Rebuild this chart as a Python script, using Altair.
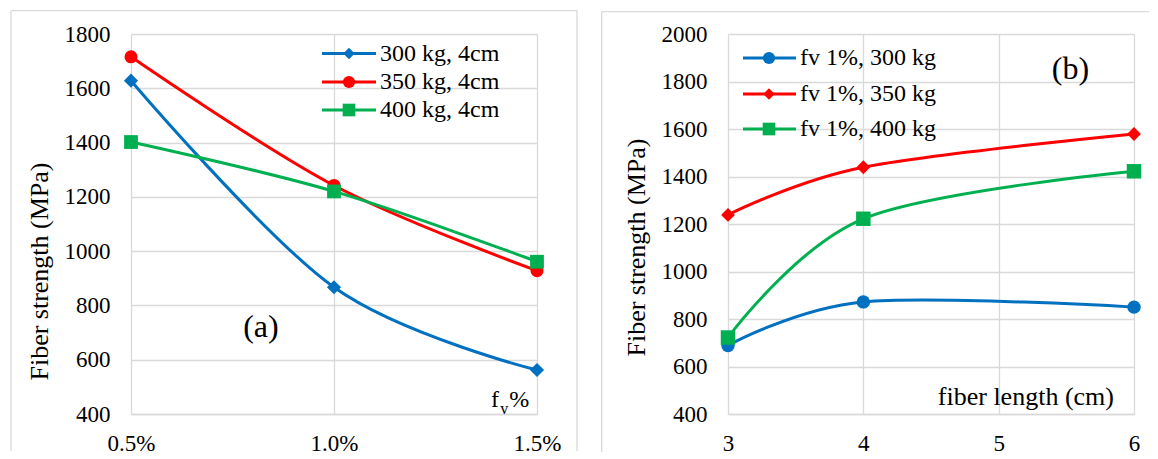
import altair as alt
import pandas as pd

# ---------------- data ----------------
x_a = [0.5, 1.0, 1.5]
a_labels = ["300 kg, 4cm", "350 kg, 4cm", "400 kg, 4cm"]
a_300 = [1628, 867, 562]
a_350 = [1716, 1242, 928]
a_400 = [1402, 1220, 961]

x_b = [3, 4, 6]
b_labels = ["fv 1%, 300 kg", "fv 1%, 350 kg", "fv 1%, 400 kg"]
b_300 = [688, 872, 850]
b_350 = [1238, 1439, 1579]
b_400 = [722, 1222, 1422]

a_xticks = [0.5, 1.0, 1.5]
a_yticks = [400, 600, 800, 1000, 1200, 1400, 1600, 1800]
b_xticks = [3, 4, 5, 6]
b_yticks = [400, 600, 800, 1000, 1200, 1400, 1600, 1800, 2000]

# ---------------- style ----------------
BLUE, RED, GREEN = "#0070C0", "#FF0000", "#00B050"
COLORS = [BLUE, RED, GREEN]
FONT = "Liberation Serif"
GRID = "#D9D9D9"
W, H = 406, 380


def one():
    return pd.DataFrame({"k": [0]})


def panel(xs, labels, series, shapes, sizes, lsizes, xdom, xticks, xlabel_expr,
          ydom, yticks, title_y, leg, annots, frame):
    xenc = alt.X("x:Q", scale=alt.Scale(domain=xdom, nice=False, zero=False),
                 axis=alt.Axis(values=xticks, labelExpr=xlabel_expr, title=None,
                               grid=True, gridColor=GRID, gridWidth=1.3,
                               domain=True, domainColor=GRID, domainWidth=1.3,
                               ticks=False, tickSize=0, labelPadding=18,
                               labelFontSize=23, labelFont=FONT, labelColor="#000",
                               labelFlush=False, labelOverlap=False))
    yenc = alt.Y("y:Q", scale=alt.Scale(domain=ydom, nice=False, zero=False),
                 axis=alt.Axis(values=yticks, format="d", title="Fiber strength (MPa)",
                               titleX=-84, titleY=title_y, titleAngle=270,
                               titleBaseline="alphabetic", titleAlign="center",
                               titleFontSize=26, titleFont=FONT, titleFontWeight="normal",
                               titleColor="#000", grid=True, gridColor=GRID, gridWidth=1.3,
                               domain=False, ticks=False, tickSize=0, labelPadding=21,
                               labelFontSize=23, labelFont=FONT, labelColor="#000",
                               labelFlush=False, labelOverlap=False))
    layers = []
    # frame around the panel (decoration)
    fx1, fx2, fy1, fy2, right_side = frame
    layers.append(alt.Chart(one()).mark_rule(color=GRID, strokeWidth=1.3).encode(
        x=alt.value(fx1), x2=alt.value(fx2), y=alt.value(fy1)))
    layers.append(alt.Chart(one()).mark_rule(color=GRID, strokeWidth=1.3).encode(
        x=alt.value(fx1), y=alt.value(fy1), y2=alt.value(fy2)))
    if right_side:
        layers.append(alt.Chart(one()).mark_rule(color=GRID, strokeWidth=1.3).encode(
            x=alt.value(fx2), y=alt.value(fy1), y2=alt.value(fy2)))
    # series
    for lab, ys, col, shp, sz in zip(labels, series, COLORS, shapes, sizes):
        df = pd.DataFrame({"x": xs, "y": ys, "s": lab})
        base = alt.Chart(df)
        layers.append(base.mark_line(interpolate="cardinal", strokeWidth=3, color=col)
                      .encode(x=xenc, y=yenc))
        layers.append(base.mark_point(shape=shp, size=sz, filled=True, opacity=1, color=col)
                      .encode(x=xenc, y=yenc))
    # legend (built manually, Excel-style)
    lx1, lx2, lxm, ltx, lys = leg
    for lab, col, shp, sz, ly in zip(labels, COLORS, shapes, lsizes, lys):
        layers.append(alt.Chart(one()).mark_rule(color=col, strokeWidth=3).encode(
            x=alt.value(lx1), x2=alt.value(lx2), y=alt.value(ly)))
        layers.append(alt.Chart(one()).mark_point(shape=shp, size=sz, filled=True,
                                                  opacity=1, color=col).encode(
            x=alt.value(lxm), y=alt.value(ly)))
        layers.append(alt.Chart(one()).mark_text(text=lab, font=FONT, fontSize=24,
                                                 align="left", baseline="middle",
                                                 color="#000").encode(
            x=alt.value(ltx), y=alt.value(ly)))
    # annotations
    for txt, ax, ay, fs, al, bl in annots:
        layers.append(alt.Chart(pd.DataFrame({"x": [ax], "y": [ay]}))
                      .mark_text(text=txt, font=FONT, fontSize=fs, align=al,
                                 baseline=bl, color="#000")
                      .encode(x=xenc, y=yenc))
    return alt.layer(*layers).properties(width=W, height=H)


left = panel(
    x_a, a_labels, [a_300, a_350, a_400],
    ["diamond", "circle", "square"], [200, 170, 190], [130, 150, 160],
    [0.5, 1.5], a_xticks, "format(datum.value, '.1f') + '%'",
    [400, 1800], a_yticks, 237,
    (191, 245, 218, 249, [19.5, 48, 76]),
    [("(a)", 0.82, 722, 32, "center", "middle"),
     ("f", 1.387, 427, 24, "left", "alphabetic"),
     ("v", 1.4096, 400, 16, "left", "alphabetic"),
     ("%", 1.481, 427, 24, "right", "alphabetic")],
    (-120, 446, -23.3, 417, True),
)

right = panel(
    x_b, b_labels, [b_300, b_350, b_400],
    ["circle", "diamond", "square"], [180, 190, 210], [150, 130, 160],
    [3, 6], b_xticks, "datum.label",
    [400, 2000], b_yticks, 213,
    (15, 68, 41, 72, [24, 60, 95]),
    [("(b)", 5.53, 1851, 32, "center", "middle"),
     ("fiber length (cm)", 5.852, 437, 26, "right", "alphabetic")],
    (-126.3, 421, -22.3, 418, False),
)

chart = (
    alt.hconcat(left, right, spacing=23)
    .properties(padding={"left": 2, "top": 2, "right": 0, "bottom": 0},
                background="white")
    .configure_view(strokeWidth=0)
)

chart.save("out.html", embed_options={"renderer": "svg", "actions": False})
